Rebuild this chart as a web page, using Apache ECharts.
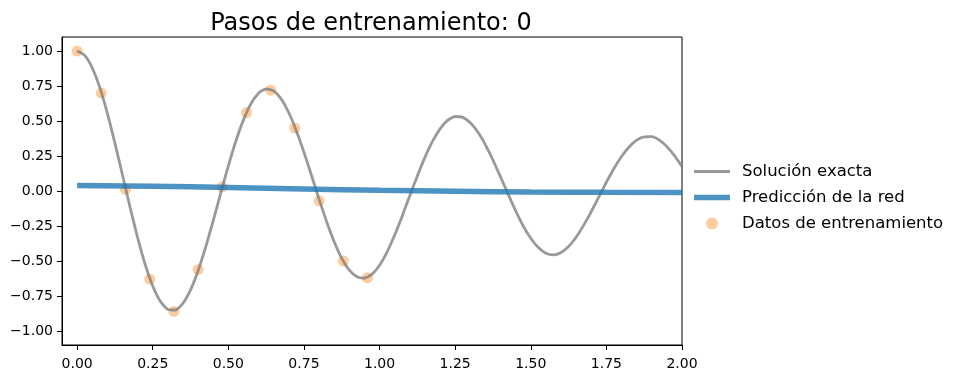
<!DOCTYPE html>
<html>
<head>
<meta charset="utf-8">
<script src="https://cdn.jsdelivr.net/npm/echarts@6/dist/echarts.min.js"></script>
<style>
html,body{margin:0;padding:0;background:#fff;}
#chart{width:960px;height:379px;}
</style>
</head>
<body>
<div id="chart"></div>
<script>
var titleText = 'Pasos de entrenamiento: 0';
var legendNames = ['Solución exacta', 'Predicción de la red', 'Datos de entrenamiento'];

var tExact = [0,0.025,0.05,0.075,0.1,0.125,0.15,0.175,0.2,0.225,0.25,0.275,0.3,0.325,0.35,0.375,0.4,0.425,0.45,0.475,
  0.5,0.525,0.55,0.575,0.6,0.625,0.65,0.675,0.7,0.725,0.75,0.775,0.8,0.825,0.85,0.875,0.9,0.925,0.95,0.975,
  1.0,1.025,1.05,1.075,1.1,1.125,1.15,1.175,1.2,1.225,1.25,1.275,1.3,1.325,1.35,1.375,1.4,1.425,1.45,1.475,
  1.5,1.525,1.55,1.575,1.6,1.625,1.65,1.675,1.7,1.725,1.75,1.775,1.8,1.825,1.85,1.875,1.9,1.925,1.95,1.975,2.0];
var yExact = [1.000,0.969,0.880,0.738,0.555,0.342,0.114,-0.116,-0.333,-0.525,-0.679,-0.788,-0.846,-0.850,-0.802,-0.706,-0.569,-0.401,-0.212,-0.014,
  0.179,0.357,0.508,0.624,0.699,0.730,0.715,0.656,0.559,0.429,0.277,0.111,-0.058,-0.219,-0.362,-0.481,-0.565,-0.612,-0.623,-0.594,
  -0.530,-0.434,-0.314,-0.178,-0.034,0.108,0.240,0.354,0.444,0.504,0.532,0.526,0.488,0.421,0.330,0.221,0.101,-0.022,-0.141,-0.250,
  -0.338,-0.404,-0.444,-0.456,-0.439,-0.396,-0.330,-0.244,-0.147,-0.042,0.063,0.161,0.246,0.314,0.363,0.387,0.388,0.363,0.317,0.253,0.175];

var tPred = [0,0.25,0.5,0.75,1.0,1.25,1.5,1.75,2.0];
var yPred = [0.040,0.034,0.025,0.015,0.005,-0.002,-0.007,-0.009,-0.010];

var tData = [0,0.08,0.16,0.24,0.32,0.40,0.48,0.56,0.64,0.72,0.80,0.88,0.96];
var yData = [1.00,0.70,0.01,-0.63,-0.86,-0.56,0.03,0.56,0.72,0.45,-0.07,-0.50,-0.62];

var xTicks = [0,0.25,0.5,0.75,1.0,1.25,1.5,1.75,2.0];
var yTicks = [-1.0,-0.75,-0.5,-0.25,0,0.25,0.5,0.75,1.0];

function zip(a, b) { return a.map(function (v, i) { return [v, b[i]]; }); }
function fmt(v) { var s = Math.abs(v).toFixed(2); return (v < -1e-9 ? '\u2212' : '') + s; }

var FONT = 'DejaVu Sans';
var GRAY = 'rgba(128,128,128,0.8)';
var BLUE = 'rgba(31,119,180,0.8)';
var ORANGE = 'rgba(255,127,14,0.4)';
var chart = echarts.init(document.getElementById('chart'), null, {renderer: 'canvas'});
chart.setOption({
  animation: false,
  backgroundColor: '#ffffff',
  textStyle: {fontFamily: FONT},
  title: {
    text: titleText,
    left: 366, top: 7, textAlign: 'center',
    textStyle: {fontFamily: FONT, fontSize: 24, fontWeight: 'normal', color: '#000'}
  },
  grid: {
    left: 62, right: 278, top: 37, bottom: 34,
    show: true, borderColor: '#000', borderWidth: 1, backgroundColor: 'transparent'
  },
  legend: {
    orient: 'vertical',
    left: 689, top: 158,
    itemWidth: 36, itemHeight: 12, itemGap: 9,
    symbolKeepAspect: true,
    data: [
      {name: legendNames[0], icon: 'path://M0,0L36,0L36,2.8L0,2.8Z', itemStyle: {color: GRAY}},
      {name: legendNames[1], icon: 'path://M0,0L36,0L36,5.5L0,5.5Z', itemStyle: {color: BLUE}},
      {name: legendNames[2], icon: 'circle', itemStyle: {color: ORANGE, opacity: 1}}
    ],
    textStyle: {fontFamily: FONT, fontSize: 16.5, color: '#000', padding: [0, 0, 0, 7]}
  },
  xAxis: {
    type: 'value', min: -0.05, max: 2.0,
    splitLine: {show: false},
    axisLine: {show: true, onZero: false, lineStyle: {color: '#000', width: 1}},
    axisTick: {show: true, length: 5, lineStyle: {color: '#000'}, customValues: xTicks},
    axisLabel: {color: '#000', fontSize: 14, fontFamily: FONT, margin: 12, customValues: xTicks, formatter: fmt}
  },
  yAxis: {
    type: 'value', min: -1.1, max: 1.1,
    splitLine: {show: false},
    axisLine: {show: true, onZero: false, lineStyle: {color: '#000', width: 1}},
    axisTick: {show: true, length: 5, lineStyle: {color: '#000'}, customValues: yTicks},
    axisLabel: {color: '#000', fontSize: 14, fontFamily: FONT, margin: 9, customValues: yTicks, formatter: fmt}
  },
  series: [
    {
      name: legendNames[2], type: 'scatter', data: zip(tData, yData),
      symbol: 'circle', symbolSize: 11,
      itemStyle: {color: ORANGE, opacity: 1},
      z: 1
    },
    {
      name: legendNames[0], type: 'line', data: zip(tExact, yExact),
      smooth: 0.2, symbol: 'none', clip: true,
      lineStyle: {color: GRAY, width: 2.8},
      itemStyle: {color: GRAY},
      z: 2
    },
    {
      name: legendNames[1], type: 'line', data: zip(tPred, yPred),
      smooth: true, symbol: 'none', clip: true,
      lineStyle: {color: BLUE, width: 5.5},
      itemStyle: {color: BLUE},
      z: 3
    }
  ]
});
</script>
</body>
</html>
